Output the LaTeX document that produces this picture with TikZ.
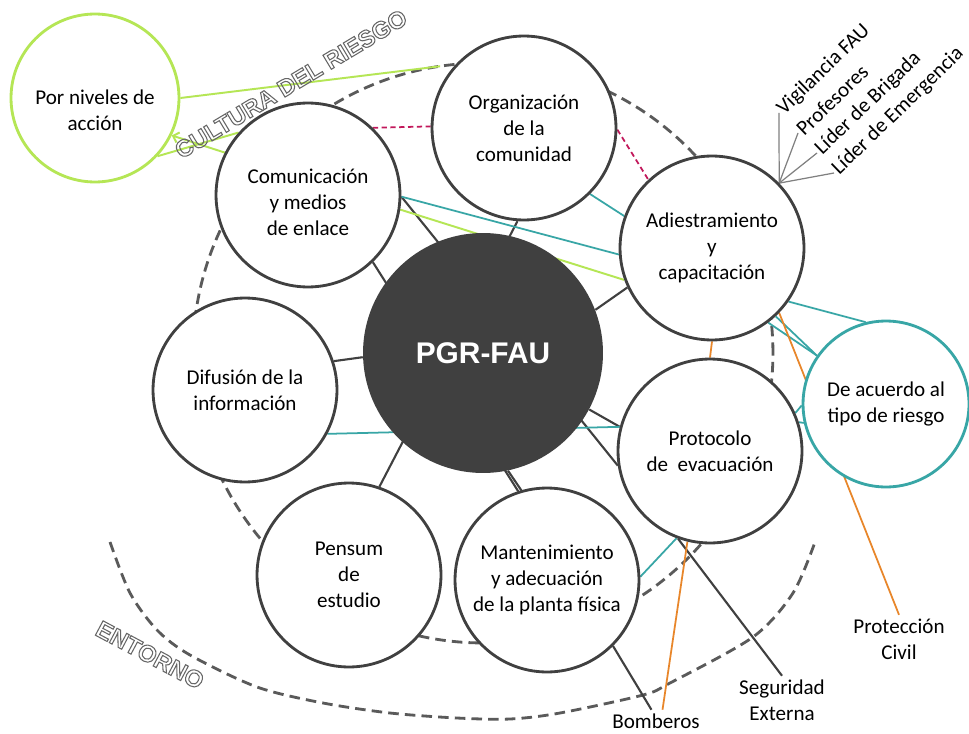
\documentclass[tikz,border=0pt]{standalone}
\usepackage{fontspec}
\setmainfont{Carlito}
\newfontfamily\arialfont{Liberation Sans}
\usetikzlibrary{backgrounds,arrows.meta}
\definecolor{dgray}{HTML}{404040}
\definecolor{tealc}{HTML}{38A6A6}
\definecolor{limec}{HTML}{B5E655}
\definecolor{orangec}{HTML}{E8862A}
\definecolor{magc}{HTML}{C2185B}
\definecolor{dashc}{HTML}{5A5A5A}
\newcommand{\hollow}[1]{\special{pdf:literal direct 1 Tr 0.6 w 0.4 G}#1\special{pdf:literal direct 0 Tr}}
\begin{document}
\begin{tikzpicture}[x=0.02cm, y=-0.02cm,
    font=\fontsize{12}{14.8}\selectfont,
    circ/.style={circle, draw=dgray, line width=1.6pt, fill=white,
      minimum size=3.68cm, inner sep=0pt, align=center},
    pgrbox/.style={circle, fill=dgray, minimum size=4.8cm, text=white,
      font=\arialfont\bfseries\fontsize{17}{20}\selectfont},
    tipobox/.style={circ, draw=tealc, minimum size=3.32cm},
    nivelbox/.style={circ, draw=limec, minimum size=3.36cm},
    lbl/.style={align=center, inner sep=2pt},
    fanlbl/.style={lbl, rotate=44, anchor=west, inner sep=1pt},
    cultura/.style={draw=dashc, line width=1.6pt, dash pattern=on 6pt off 3.5pt},
    blk/.style={draw=dgray, line width=1.2pt},
    tealln/.style={draw=tealc, line width=1pt},
    limeln/.style={draw=limec, line width=1.1pt},
    orangeln/.style={draw=orangec, line width=1pt},
    magln/.style={draw=magc, line width=1pt, dash pattern=on 3pt off 2pt},
    fanln/.style={draw=gray, line width=0.7pt}]
  \useasboundingbox (0,0) rectangle (969,733);

  \node[pgrbox] (pgr) at (483,353) {PGR-FAU};
  \node[circ] (org) at (524,128) {Organización\\de la\\comunidad};
  \node[circ, label={[align=center, yshift=-0.14cm]center:Comunicación\\y medios\\de enlace}] (comu) at (308,195) {};
  \node[circ] (difu) at (245,390) {Difusión de la\\información};
  \node[circ] (pens) at (349,575) {Pensum\\de\\estudio};
  \node[circ] (mant) at (547,580) {Mantenimiento\\y adecuación\\de la planta física};
  \node[circ] (prot) at (710,451) {Protocolo\\de~~evacuación};
  \node[circ] (adies) at (712,248) {Adiestramiento\\y\\capacitación};
  \node[tipobox] (tipo) at (886,404) {De acuerdo al\\tipo de riesgo};
  \node[nivelbox, label={[align=center, yshift=-0.24cm]center:Por niveles de\\acción}] (nivel) at (95,98) {};

  \node[lbl] (civil) at (899,639) {Protección\\Civil};
  \node[lbl] (segu) at (782,700) {Seguridad\\Externa};
  \node[lbl] (bomb) at (656,721) {Bomberos};
  \node[fanlbl] (vig) at (779,113) {Vigilancia FAU};
  \node[fanlbl] (prof) at (798,133) {Profesores};
  \node[fanlbl] (brig) at (817,153) {Líder de Brigada};
  \node[fanlbl] (emer) at (834,173) {Líder de Emergencia};

  \node[rotate=31, font=\arialfont\bfseries\fontsize{13.5}{16}\selectfont] (cultxt) at (291,84) {\hollow{CULTURA DEL RIESGO}};
  \node[rotate=-28, font=\arialfont\bfseries\fontsize{13.5}{16}\selectfont] (entxt) at (150,655) {\hollow{ENTORNO}};

  \coordinate (cultpt) at ([shift={(98.5:5.8cm)}]pgr.center);

  \begin{pgfonlayer}{background}
    \fill[white] (0,0) rectangle (969,733);
    \draw[cultura] (pgr.center) circle (5.8cm);
    \draw[cultura] plot[smooth] coordinates {(110,542) (130,593) (157,630) (190,655)
      (257,687) (323,703) (390,713) (457,718) (510,719) (560,713) (643,695)
      (670,683) (753,637) (793,593) (815,542)};

    \draw[blk] (org.266) -- (pens.71);
    \draw[blk] (comu.-46) -- (mant.108);
    \draw[blk] (pgr.-78) -- (mant.106);
    \draw[blk] (difu.18) -- (pgr.182);
    \draw[blk] (pgr.21) -- (adies.205);
    \draw[blk] (pgr.-28) -- (prot.165);
    \draw[blk] (comu.-1) -- (prot.189);
    \draw[blk] (mant.-45) -- (bomb.112);
    \draw[blk] (prot.250) -- (segu.north);

    \draw[tealln] (comu.-1) -- (adies.184);
    \draw[tealln] (org.-45) -- (adies.160);
    \draw[tealln] (adies.-35) -- (tipo.104);
    \draw[tealln] (adies.-53) -- (tipo.145);
    \draw[tealln] (adies.-47) -- (tipo.145);
    \draw[tealln] (prot.24) -- (tipo.181);
    \draw[tealln] (prot.18) -- (tipo.193);
    \draw[tealln] (difu.-28) -- (prot.165);
    \draw[tealln] (mant.2) -- (prot.249);

    \draw[limeln] (nivel.0) -- (cultpt);
    \draw[limeln] (nivel.-43) -- (comu.138);
    \draw[limeln, -{Straight Barb[length=3pt]}] (comu.153) -- (nivel.-26);
    \draw[limeln] (comu.-9) -- (adies.200);

    \draw[magln] (comu.46) -- (org.179);
    \draw[magln] (org.-1) -- (adies.133);

    \draw[orangeln] (adies.-90) -- (prot.90);
    \draw[orangeln] (adies.-44) -- (civil.north);
    \draw[orangeln] (prot.-104) -- (bomb.60);

    \draw[fanln] (adies.44) -- (vig.west);
    \draw[fanln] (adies.44) -- (prof.west);
    \draw[fanln] (adies.44) -- (brig.west);
    \draw[fanln] (adies.44) -- (emer.west);
  \end{pgfonlayer}
\end{tikzpicture}
\end{document}
